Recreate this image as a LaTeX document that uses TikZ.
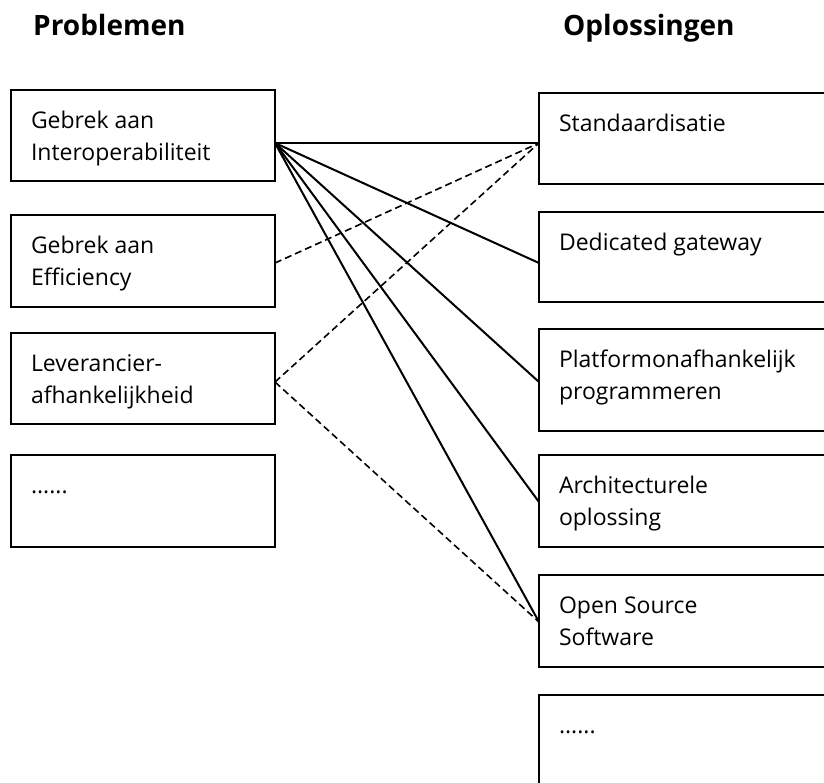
\documentclass[tikz,border=0pt]{standalone}
\usepackage{fontspec}
\setmainfont{Open Sans}
\usetikzlibrary{calc}
\newcommand{\boxtext}[3]{\parbox[t][#1][t]{#2}{\raggedright\rule{0pt}{38pt}#3}}
\tikzset{
  pbox/.style={draw, line width=1.8pt, anchor=north west, inner xsep=20pt, inner ysep=0pt, outer sep=0pt, font=\fontsize{23}{32}\selectfont},
  head/.style={anchor=base west, inner sep=0pt, font=\fontsize{28}{32}\selectfont\bfseries},
  link/.style={line width=2pt},
  dlink/.style={line width=1.6pt, dash pattern=on 7pt off 4pt}
}
\begin{document}
\begin{tikzpicture}[x=1pt,y=-1pt]
\useasboundingbox (0,0) rectangle (824,782);
\clip (0,0) rectangle (824,782);
\node[head] (h1) at (33,35) {Problemen};
\node[head] (h2) at (563,35) {Oplossingen};
% problems
\node[pbox] (p1) at (11,90) {\boxtext{91pt}{224pt}{Gebrek aan\\Interoperabiliteit}};
\node[pbox] (p2) at (11,215) {\boxtext{92pt}{224pt}{Gebrek aan\\Efficiency}};
\node[pbox] (p3) at (11,333) {\boxtext{91pt}{224pt}{Leverancier-\\afhankelijkheid}};
\node[pbox] (p4) at (11,455) {\boxtext{92pt}{224pt}{......}};
% solutions
\node[pbox] (s1) at (539,93) {\boxtext{91pt}{280pt}{Standaardisatie}};
\node[pbox] (s2) at (539,212) {\boxtext{90pt}{280pt}{Dedicated gateway}};
\node[pbox] (s3) at (539,329) {\boxtext{102pt}{280pt}{Platformonafhankelijk\\programmeren}};
\node[pbox] (s4) at (539,455) {\boxtext{92pt}{280pt}{Architecturele\\oplossing}};
\node[pbox] (s5) at (539,575) {\boxtext{92pt}{280pt}{Open Source\\Software}};
\node[pbox] (s6) at (539,695) {\boxtext{120pt}{280pt}{......}};
% connection points
\coordinate (p1c) at ($(p1.north east)+(0,53)$);
\coordinate (p2c) at ($(p2.north east)+(0,48)$);
\coordinate (p3c) at ($(p3.north east)+(0,49)$);
\coordinate (s1c) at ($(s1.north west)+(0,50)$);
\coordinate (s2c) at ($(s2.north west)+(0,51)$);
\coordinate (s3c) at ($(s3.north west)+(0,53)$);
\coordinate (s4c) at ($(s4.north west)+(0,47)$);
\coordinate (s5c) at ($(s5.north west)+(0,47)$);
% connectors
\draw[link] (p1c) -- (s1c);
\draw[link] (p1c) -- (s2c);
\draw[link] (p1c) -- (s3c);
\draw[link] (p1c) -- (s4c);
\draw[link] (p1c) -- (s5c);
\draw[dlink] (p2c) -- (s1c);
\draw[dlink] (p3c) -- (s1c);
\draw[dlink] (p3c) -- (s5c);
\end{tikzpicture}
\end{document}
